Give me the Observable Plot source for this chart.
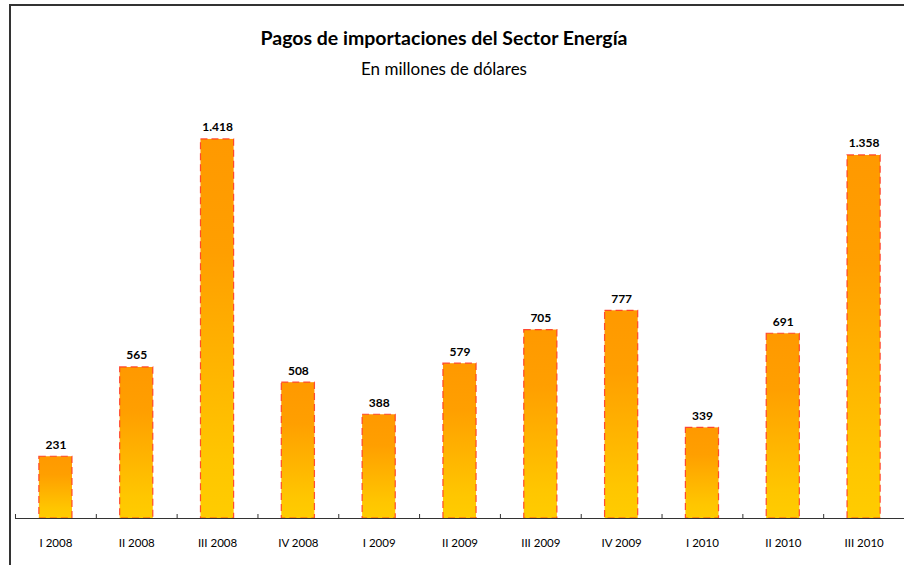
<!DOCTYPE html>
<html>
<head>
<meta charset="utf-8">
<script src="https://cdn.jsdelivr.net/npm/d3@7"></script>
<script src="https://cdn.jsdelivr.net/npm/@observablehq/plot@0.6"></script>
<style>
  html, body { margin: 0; padding: 0; background: #fff; }
  #wrap { position: relative; width: 904px; height: 565px; overflow: hidden; font-family: Lato, "Open Sans", sans-serif; }
  #frame { position: absolute; left: 9px; top: 4px; width: 1000px; height: 700px; border-top: 2px solid #333; border-left: 2px solid #333; }
  #title { position: absolute; left: 0; width: 888px; top: 28px; text-align: center; font-size: 19.5px; line-height: 19.5px; font-weight: bold; color: #000; }
  #subtitle { position: absolute; left: 0; width: 888px; top: 60px; text-align: center; font-size: 17px; line-height: 17px; color: #000; }
  #chart { position: absolute; left: 0; top: 90px; }
</style>
</head>
<body>
<div id="wrap">
  <div id="frame"></div>
  <div id="title">Pagos de importaciones del Sector Energía</div>
  <div id="subtitle">En millones de dólares</div>
  <div id="chart"></div>
</div>
<script>
const categories = ["I 2008", "II 2008", "III 2008", "IV 2008", "I 2009", "II 2009", "III 2009", "IV 2009", "I 2010", "II 2010", "III 2010"];
const values = [231, 565, 1418, 508, 388, 579, 705, 777, 339, 691, 1358];

const data = categories.map((c, i) => ({cat: c, value: values[i]}));
const fmt = (v) => d3.format(",")(v).replace(/,/g, ".");

const W = 904, H = 475, mL = 15, mR = 0;
const step = (W - mL - mR) / categories.length;

const defs = () => {
  const ns = "http://www.w3.org/2000/svg";
  const d = document.createElementNS(ns, "defs");
  const g = document.createElementNS(ns, "linearGradient");
  g.setAttribute("id", "barGrad");
  g.setAttribute("x1", "0"); g.setAttribute("y1", "0");
  g.setAttribute("x2", "0"); g.setAttribute("y2", "1");
  [["0%", "#FF9900"], ["30%", "#FF9F00"], ["85%", "#FFC600"], ["100%", "#FFCC00"]].forEach(([o, c]) => {
    const s = document.createElementNS(ns, "stop");
    s.setAttribute("offset", o); s.setAttribute("stop-color", c);
    g.appendChild(s);
  });
  d.appendChild(g);
  return d;
};

const chart = Plot.plot({
  width: W,
  height: H,
  marginLeft: mL,
  marginRight: mR,
  marginTop: 27,
  marginBottom: 47,
  style: {fontFamily: "Lato, 'Open Sans', sans-serif", background: "transparent"},
  x: {domain: categories, paddingInner: 0.59, paddingOuter: 0.295, round: false, label: null},
  y: {domain: [0, 1500], axis: null},
  marks: [
    defs,
    Plot.barY(data, {x: "cat", y: "value", fill: "url(#barGrad)", stroke: "#FF3322", strokeOpacity: 0.85, strokeWidth: 1.2, strokeDasharray: "7,4"}),
    Plot.ruleY([0], {stroke: "#333", strokeWidth: 1}),
    Plot.ruleX(data, {x: "cat", y1: 0, y2: 0, insetTop: -4, dx: -step / 2, stroke: "#333", strokeWidth: 1}),
    Plot.axisX({tickSize: 0, tickPadding: 20, fontSize: 11.5, fill: "#000", label: null}),
    Plot.text(data, {x: "cat", y: "value", text: (d) => fmt(d.value), lineAnchor: "bottom", dy: -8, fontSize: 12, fontWeight: "bold", fill: "#000"})
  ]
});
document.getElementById("chart").appendChild(chart);
</script>
</body>
</html>
